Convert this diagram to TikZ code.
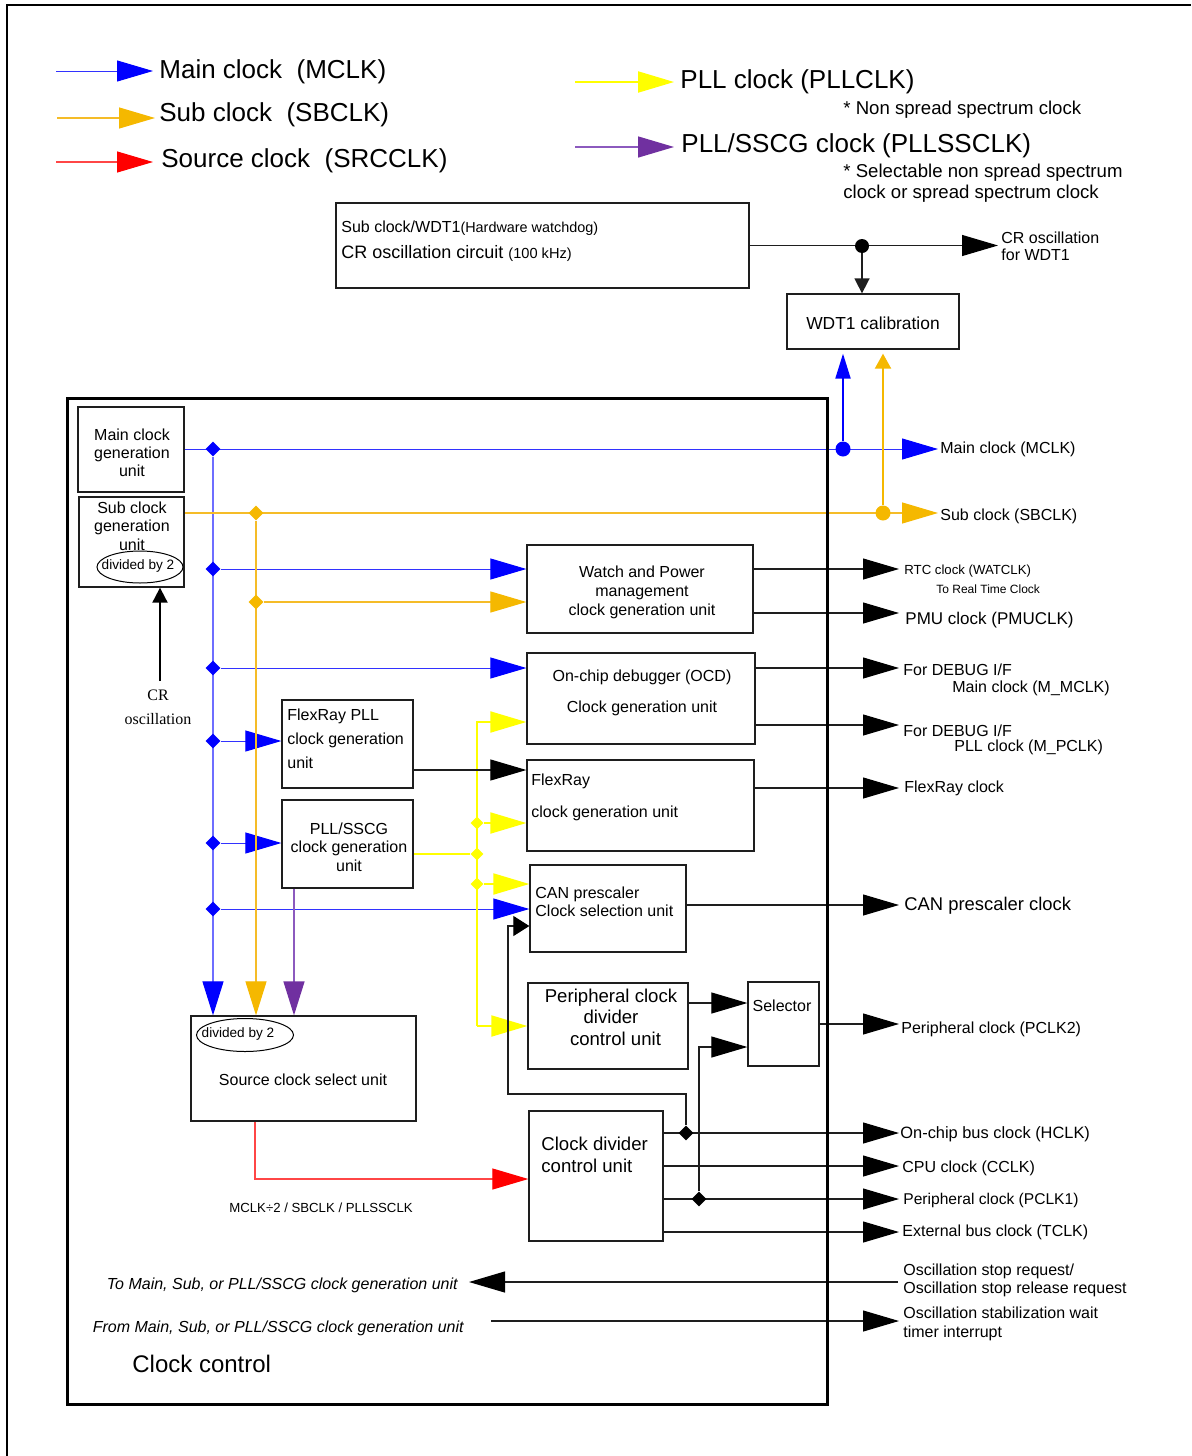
\documentclass[tikz,border=0pt]{standalone}
\usepackage{fontspec}
\setmainfont{Liberation Sans}
\newfontfamily\crserif{Liberation Serif}
\usetikzlibrary{arrows.meta,shapes.geometric,fit}
\newcommand\fsz[2]{\fontsize{#1}{#2}\selectfont}
\definecolor{cBlue}{RGB}{0,0,255}
\definecolor{cBlueL}{RGB}{50,50,255}
\definecolor{cBlueV}{RGB}{110,110,255}
\definecolor{cOrg}{RGB}{245,184,0}
\definecolor{cOrgL}{RGB}{245,188,40}
\definecolor{cYel}{RGB}{255,255,0}
\definecolor{cPur}{RGB}{112,48,160}
\definecolor{cPurL}{RGB}{140,90,190}
\definecolor{cRed}{RGB}{255,0,0}
\definecolor{cRedL}{RGB}{255,70,70}
\definecolor{cLine}{RGB}{30,30,30}
\pgfdeclarelayer{back}
\pgfdeclarelayer{wires}
\pgfsetlayers{back,wires,main}
\begin{document}
\begin{tikzpicture}[x=0.5pt,y=-0.5pt,
  box/.style={draw=cLine, line width=0.65pt, inner sep=0pt},
  txt/.style={inner sep=0pt, align=center},
  lbl/.style={anchor=west, inner sep=0pt, align=left},
  kln/.style={draw=cLine, line width=0.55pt},
  bln/.style={draw=cBlueL, line width=0.5pt},
  blnv/.style={draw=cBlueV, line width=0.6pt},
  oln/.style={draw=cOrgL, line width=0.6pt},
  yln/.style={draw=cYel, line width=1pt},
  pln/.style={draw=cPurL, line width=0.7pt},
  rln/.style={draw=cRedL, line width=0.55pt},
  tipB/.style={-{Triangle[length=18pt,width=10.5pt,color=cBlue]}},
  tipO/.style={-{Triangle[length=18pt,width=10.5pt,color=cOrg]}},
  tipY/.style={-{Triangle[length=18pt,width=10.5pt,color=cYel]}},
  tipP/.style={-{Triangle[length=18pt,width=10.5pt,color=cPur]}},
  tipR/.style={-{Triangle[length=18pt,width=10.5pt,color=cRed]}},
  tipK/.style={-{Triangle[length=18pt,width=10.5pt,color=black]}},
  tipBot/.style={-{Triangle[length=17pt,width=10.5pt,color=#1]}},
  dmd/.style={diamond, fill=#1, inner sep=0pt, minimum width=7.5pt, minimum height=7.5pt},
  jdot/.style={circle, fill=#1, inner sep=0pt, minimum size=7.5pt},
  oval/.style={draw, ellipse, line width=0.5pt, inner sep=0pt},
]
\begin{pgfonlayer}{back}
\fill[white] (0,0) rectangle (1191,1456);
\end{pgfonlayer}
\useasboundingbox (0,0) rectangle (1191,1456);
\draw[line width=1pt] (7,1456) -- (7,5) -- (1191,5);

% ---------------- legend
\node[lbl, font=\fsz{13}{15}] (lgm) at (159,72) {Main clock\ \ (MCLK)};
\node[lbl, font=\fsz{13}{15}] (lgs) at (159,115) {Sub clock\ \ (SBCLK)};
\node[lbl, font=\fsz{13}{15}] (lgr) at (161,161) {Source clock\ \ (SRCCLK)};
\node[lbl, font=\fsz{13}{15}] (lgp) at (680,82) {PLL clock (PLLCLK)};
\node[lbl, font=\fsz{9.3}{10.5}] (lgpn) at (843,110) {* Non spread spectrum clock};
\node[lbl, font=\fsz{13}{15}] (lgq) at (681,146) {PLL/SSCG clock (PLLSSCLK)};
\node[lbl, font=\fsz{9.3}{10.5}] (lgqn) at (843,183.5) {* Selectable non spread spectrum\\clock or spread spectrum clock};
\coordinate (lgm0) at (56,71);
\coordinate (lgs0) at (57,118);
\coordinate (lgr0) at (56,162);
\coordinate (lgp0) at (575,82);
\coordinate (lgq0) at (575,147);
\begin{pgfonlayer}{wires}
\draw[bln, tipB, shorten >=3pt] (lgm0) -- (lgm0 -| lgm.west);
\draw[oln, tipO, shorten >=2pt] (lgs0) -- (lgs0 -| lgs.west);
\draw[rln, tipR, shorten >=4pt] (lgr0) -- (lgr0 -| lgr.west);
\draw[yln, tipY, shorten >=3pt] (lgp0) -- (lgp0 -| lgp.west);
\draw[pln, tipP, shorten >=3.5pt] (lgq0) -- (lgq0 -| lgq.west);
\end{pgfonlayer}

% ---------------- oscillator and WDT1
\node[box, fit={(336,203) (749,288)}] (osc) {};
\node[lbl] (osct1) at (341,228) {\fsz{8}{9}Sub clock/WDT1\fsz{7.2}{8}(Hardware watchdog)};
\node[lbl] (osct2) at (341,253) {\fsz{9}{10}CR oscillation circuit \fsz{7.3}{8}(100 kHz)};
\node[jdot=black, minimum size=7pt] (kdot) at (862,246) {};
\node[lbl, font=\fsz{8}{8.7}] (crw) at (1001,246) {CR oscillation\\for WDT1};
\node[box, fit={(787,294) (959,349)}] (cal) {};
\node[txt, font=\fsz{8.7}{10}] (calt) at (873,323) {WDT1 calibration};
\begin{pgfonlayer}{wires}
\draw[kln, tipK, shorten >=1.5pt] (osc.east) -- (osc.east -| crw.west);
\draw[kln, line width=0.8pt, -{Triangle[length=7.5pt,width=7.5pt]}] (kdot) -- (kdot |- cal.north);
\end{pgfonlayer}

% ---------------- clock control frame
\node[draw, line width=1.5pt, inner sep=0pt, fit={(67,398) (827,1404)}] (cc) {};
\node[lbl, font=\fsz{12}{14}] (cctl) at (132,1364) {Clock control};

% ---------------- boxes
\node[box, fit={(78,407) (184,492)}] (mcg) {};
\node[txt, font=\fsz{8}{9}] (mcgt) at (132,453) {Main clock\\generation\\unit};
\node[box, fit={(79,497) (184,587)}] (scg) {};
\node[txt, font=\fsz{8}{9.2}] (scgt) at (132,526) {Sub clock\\generation\\unit};
\node[oval, minimum width=43pt, minimum height=16pt] (dv1) at (140,567) {};
\node[txt, font=\fsz{6.8}{7}] (dv1t) at (138,566) {divided by 2};
\node[txt, font=\crserif\fsz{8}{12}] (crosc) at (158,707) {CR\\oscillation};
\coordinate (cr0) at (160,681);

\node[box, fit={(527,545) (753,633)}] (wp) {};
\node[txt, font=\fsz{8}{9.5}] (wpt) at (642,592) {Watch and Power\\management\\clock generation unit};
\node[box, fit={(527,653) (755,744)}] (ocd) {};
\node[txt, font=\fsz{8}{15.5}] (ocdt) at (642,693) {On-chip debugger (OCD)\\Clock generation unit};
\node[box, fit={(282,700) (413,788)}] (frpll) {};
\node[lbl, font=\fsz{8}{12}] (frpllt) at (287,739) {FlexRay PLL\\clock generation\\unit};
\node[box, fit={(527,760) (754,851)}] (fr) {};
\node[lbl, font=\fsz{8}{16}] (frt) at (531,797) {FlexRay\\clock generation unit};
\node[box, fit={(282,800) (413,888)}] (pll) {};
\node[txt, font=\fsz{8}{9.25}] (pllt) at (349,847) {PLL/SSCG\\clock generation\\unit};
\node[box, fit={(530,865) (686,952)}] (can) {};
\node[lbl, font=\fsz{8}{9}] (cant) at (535,902) {CAN prescaler\\Clock selection unit};
\node[box, fit={(528,983) (688,1069)}] (pcd) {};
\node[txt, font=\fsz{9.3}{10.8}] (pcdt) at (611,1017) {Peripheral clock\\divider\\\hspace*{4.5pt}control unit};
\node[box, fit={(748,982) (819,1066)}] (sel) {};
\node[txt, font=\fsz{8}{9}] (selt) at (782,1006) {Selector};
\node[box, fit={(529,1111) (663,1241)}] (cdc) {};
\node[lbl, font=\fsz{9.3}{11}] (cdct) at (541,1155) {Clock divider\\control unit};
\node[box, fit={(191,1016) (416,1121)}] (ssu) {};
\node[oval, minimum width=48.5pt, minimum height=16.5pt] (dv2) at (245,1035) {};
\node[txt, font=\fsz{6.8}{7}] (dv2t) at (238,1034) {divided by 2};
\node[txt, font=\fsz{8}{9}] (ssut) at (303,1080) {Source clock select unit};
\node[txt, font=\fsz{6.6}{7}] (srcl) at (321,1208) {MCLK÷2 / SBCLK / PLLSSCLK};

% ---------------- junctions
\node[dmd=cBlue] (bd0) at (213,449) {};
\node[dmd=cBlue] (bd1) at (213,569) {};
\node[dmd=cBlue] (bd2) at (213,668) {};
\node[dmd=cBlue] (bd3) at (213,741) {};
\node[dmd=cBlue] (bd4) at (213,843) {};
\node[dmd=cBlue] (bd5) at (213,909) {};
\node[dmd=cOrg] (od0) at (256,513) {};
\node[dmd=cOrg] (od1) at (256,602) {};
\node[dmd=cYel, minimum width=6.5pt, minimum height=6.5pt] (yd1) at (477,823) {};
\node[dmd=cYel, minimum width=6.5pt, minimum height=6.5pt] (yd2) at (477,854) {};
\node[dmd=cYel, minimum width=6.5pt, minimum height=6.5pt] (yd3) at (477,884) {};
\node[dmd=black] (kd1) at (686,1133) {};
\node[dmd=black] (kd2) at (699,1199) {};
\node[jdot=cBlue] (mdot) at (843,449) {};
\node[jdot=cOrg] (sdot) at (883,513) {};
\coordinate (ytop) at (477,722);
\coordinate (ybot) at (477,1026);

% ---------------- output labels
\node[lbl, font=\fsz{8}{9}] (lmain) at (940,449) {Main clock (MCLK)};
\node[lbl, font=\fsz{8}{9}] (lsub) at (940,516) {Sub clock (SBCLK)};
\node[lbl, font=\fsz{6.6}{7}] (lrtc) at (904,571) {RTC clock (WATCLK)};
\node[lbl, font=\fsz{6}{7}] (lrtc2) at (936,589) {To Real Time Clock};
\node[lbl, font=\fsz{8.5}{9}] (lpmu) at (905,620) {PMU clock (PMUCLK)};
\node[lbl, font=\fsz{8}{9}] (ldbg1) at (903,670) {For DEBUG I/F};
\node[lbl, font=\fsz{8}{9}] (ldbg1b) at (952,688) {Main clock (M\_MCLK)};
\node[lbl, font=\fsz{8}{9}] (ldbg2) at (903,731) {For DEBUG I/F};
\node[lbl, font=\fsz{8}{9}] (ldbg2b) at (954,747) {PLL clock (M\_PCLK)};
\node[lbl, font=\fsz{8}{9}] (lfr) at (904,788) {FlexRay clock};
\node[lbl, font=\fsz{9.2}{10}] (lcan) at (904,906) {CAN prescaler clock};
\node[lbl, font=\fsz{8}{9}] (lpclk2) at (901,1029) {Peripheral clock (PCLK2)};
\node[lbl, font=\fsz{8.2}{9}] (lhclk) at (900,1134) {On-chip bus clock (HCLK)};
\node[lbl, font=\fsz{8}{9}] (lcclk) at (902,1168) {CPU clock (CCLK)};
\node[lbl, font=\fsz{7.8}{9}] (lpclk1) at (903,1200) {Peripheral clock (PCLK1)};
\node[lbl, font=\fsz{8}{9}] (ltclk) at (902,1232) {External bus clock (TCLK)};
\node[lbl, font=\fsz{8}{9}] (losr) at (903,1280) {Oscillation stop request/\\Oscillation stop release request};
\node[lbl, font=\fsz{8}{9.5}] (losw) at (903,1324) {Oscillation stabilization wait\\timer interrupt};
\node[anchor=east, inner sep=0pt, font=\itshape\fsz{8}{9}] (tomain) at (458,1285) {To Main, Sub, or PLL/SSCG clock generation unit};
\node[anchor=east, inner sep=0pt, font=\itshape\fsz{8}{9}] (frommain) at (464,1328) {From Main, Sub, or PLL/SSCG clock generation unit};

\coordinate (trtc) at (899,569);
\coordinate (tpmu) at (899,613);
\coordinate (tdbg1) at (899,668);
\coordinate (tdbg2) at (899,725);
\coordinate (tfr) at (899,788);
\coordinate (tcan) at (899,905);
\coordinate (tpclk2) at (899,1024);
\coordinate (thclk) at (899,1133);
\coordinate (tcclk) at (899,1166);
\coordinate (tpclk1) at (899,1199);
\coordinate (ttclk) at (899,1232);
\coordinate (osr) at (898,1282);
\coordinate (osw) at (899,1321);

% ---------------- connectors
\begin{pgfonlayer}{wires}
\draw[line width=1pt, -{Triangle[length=7.5pt,width=7.5pt]}] (cr0) -- (cr0 |- scg.south);
% main clock
\draw[bln, tipB, shorten >=1pt] (mcg.east |- bd0) -- (bd0 -| lmain.west);
\draw[line width=1pt, cBlue, -{Triangle[length=12.5pt,width=7.5pt]}, shorten >=2pt] (mdot) -- (mdot |- cal.south);
\draw[blnv, tipBot=cBlue] (bd0) -- (bd0 |- ssu.north);
\draw[bln, tipB] (bd1) -- (bd1 -| wp.west);
\draw[bln, tipB] (bd2) -- (bd2 -| ocd.west);
\draw[bln, tipB] (bd3) -- (bd3 -| frpll.west);
\draw[bln, tipB] (bd4) -- (bd4 -| pll.west);
\draw[bln, tipB] (bd5) -- (bd5 -| can.west);
% sub clock
\draw[oln, tipO, shorten >=1pt] (scg.east |- od0) -- (od0 -| lsub.west);
\draw[line width=1pt, cOrg, -{Triangle[length=7.5pt,width=8pt]}, shorten >=2pt] (sdot) -- (sdot |- cal.south);
\draw[oln, tipBot=cOrg] (od0) -- (od0 |- ssu.north);
\draw[oln, tipO] (od1) -- (od1 -| wp.west);
% PLL/SSCG
\draw[pln, tipBot=cPur] (pll.south -| 294,0) -- (ssu.north -| 294,0);
% PLL clock (yellow)
\draw[yln, tipY] (ybot) -- (ytop) -- (ytop -| ocd.west);
\draw[yln, tipY] (ybot) -- (ybot -| pcd.west);
\draw[yln, tipY] (yd1) -- (yd1 -| fr.west);
\draw[yln] (pll.east |- yd2) -- (yd2);
\draw[yln, tipY] (yd3) -- (yd3 -| can.west);
% source clock
\draw[rln, tipR] (ssu.south -| 255,0) |- (cdc.west |- 0,1179);
% black internal
\draw[kln, tipK] (frpll.east |- 0,770) -- (fr.west |- 0,770);
\draw[kln, -{Triangle[length=8pt,width=10pt,color=black]}] (kd1) -- (686,1094) -- (508,1094) -- (508,926) -- (can.west |- 0,926);
\draw[kln, tipK] (pcd.east |- 0,1003) -- (sel.west |- 0,1003);
\draw[kln, tipK] (kd2) |- (sel.west |- 0,1047);
% outputs
\draw[kln, tipK] (wp.east |- trtc) -- (trtc);
\draw[kln, tipK] (wp.east |- tpmu) -- (tpmu);
\draw[kln, tipK] (ocd.east |- tdbg1) -- (tdbg1);
\draw[kln, tipK] (ocd.east |- tdbg2) -- (tdbg2);
\draw[kln, tipK] (fr.east |- tfr) -- (tfr);
\draw[kln, tipK] (can.east |- tcan) -- (tcan);
\draw[kln, tipK] (sel.east |- tpclk2) -- (tpclk2);
\draw[kln, tipK] (cdc.east |- thclk) -- (thclk);
\draw[kln, tipK] (cdc.east |- tcclk) -- (tcclk);
\draw[kln, tipK] (cdc.east |- tpclk1) -- (tpclk1);
\draw[kln, tipK] (cdc.east |- ttclk) -- (ttclk);
\draw[kln, tipK, shorten >=5.5pt] (osr) -- (osr -| tomain.east);
\draw[kln, tipK, shorten <=13.5pt] (osw -| frommain.east) -- (osw);
\end{pgfonlayer}
\end{tikzpicture}
\end{document}
